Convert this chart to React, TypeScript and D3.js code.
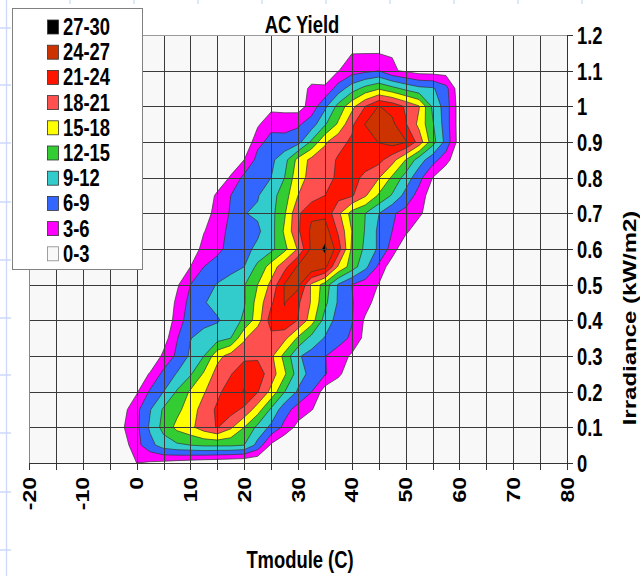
import React, { useEffect, useRef } from "react";
import * as d3 from "d3";

// module temperature (C) of each grid column
const tmodule = [-5, -2.5, 0, 2.5, 5, 7.5, 10, 12.5, 15, 17.5, 20, 22.5, 25, 27.5, 30,
  32.5, 35, 37.5, 40, 42.5, 45, 47.5, 50, 52.5, 55, 57.5, 60, 62.5];

// irradiance (kW/m2) of each grid row
const irradiance = [0, 0.05, 0.1, 0.15, 0.2, 0.25, 0.3, 0.35, 0.4, 0.45, 0.5, 0.55, 0.6,
  0.65, 0.7, 0.75, 0.8, 0.85, 0.9, 0.95, 1, 1.05, 1.1, 1.15, 1.2];

// AC yield, one row per irradiance value
const acYield = [
  [0, 0, 3, 2.6, 2.2, 1.7, 1.3, 0.9, 0.6, 0.3, 0, 0, 0, 0, 0, 0, 0, 0, 0, 0, 0, 0, 0, 0, 0, 0, 0, 0],
  [0, 1.5, 5, 8, 10.5, 11.5, 12, 12.5, 12.5, 12.5, 12, 8, 2.5, 0, 0, 0, 0, 0, 0, 0, 0, 0, 0, 0, 0, 0, 0, 0],
  [0, 2.8, 5.2, 9.5, 13, 15.8, 17.3, 19.5, 21.2, 18.5, 15, 11.2, 8.3, 5.2, 2, 0, 0, 0, 0, 0, 0, 0, 0, 0, 0, 0, 0, 0],
  [0, 2, 5.2, 8.8, 12.4, 14.2, 16.5, 19.3, 21.5, 22.3, 20.3, 16.5, 11.5, 7.2, 4.8, 3.2, 1, 0, 0, 0, 0, 0, 0, 0, 0, 0, 0, 0],
  [0, 0, 2.6, 6.4, 9, 12.3, 15.4, 17.7, 20.3, 22.5, 24.2, 21.2, 17.2, 12.1, 8.6, 6.1, 1.5, 0, 0, 0, 0, 0, 0, 0, 0, 0, 0, 0],
  [0, 0, 0.5, 3.3, 6.8, 9.2, 11.6, 15.4, 19.2, 20.8, 23, 22.5, 19.5, 15.5, 10.5, 8, 6.3, 3.8, 0.5, 0, 0, 0, 0, 0, 0, 0, 0, 0],
  [0, 0, 0, 0, 3.7, 6.6, 9.5, 12, 17, 19.2, 20.2, 20.5, 18.7, 14, 9.4, 7.8, 6.1, 4.6, 2.5, 0, 0, 0, 0, 0, 0, 0, 0, 0],
  [0, 0, 0, 0, 1.5, 5.8, 8.9, 10, 10.8, 12, 17.5, 20.8, 20, 18.8, 14.5, 11, 8.8, 7.2, 5.5, 2, 0, 0, 0, 0, 0, 0, 0, 0],
  [0, 0, 0, 0, 0, 4.5, 7.5, 8.2, 8.7, 10.2, 12.6, 16.5, 22.5, 23.5, 20.9, 16.5, 10.8, 7.8, 6.2, 2.5, 0, 0, 0, 0, 0, 0, 0, 0],
  [0, 0, 0, 0, 0, 3.7, 7, 8.8, 9.9, 10.6, 11.7, 16.2, 20.5, 24.1, 21.5, 17.7, 12.8, 8.6, 6.2, 4.3, 1.5, 0, 0, 0, 0, 0, 0, 0],
  [0, 0, 0, 0, 0, 2.5, 6, 7.6, 9.2, 10.5, 11.8, 15, 18.7, 24.2, 25, 17.5, 13.7, 8.7, 6, 4.4, 2.9, 0, 0, 0, 0, 0, 0, 0],
  [0, 0, 0, 0, 0, 0, 3, 6, 7, 7.9, 9, 12.8, 16.3, 20, 24.5, 26.4, 25, 17.5, 13.6, 9.8, 5.4, 1, 0, 0, 0, 0, 0, 0],
  [0, 0, 0, 0, 0, 0, 0, 4.5, 5.4, 6.8, 8.2, 9.6, 11.2, 14.2, 18.3, 24.6, 27.6, 22.5, 14.5, 11.4, 8.5, 4.8, 0, 0, 0, 0, 0, 0],
  [0, 0, 0, 0, 0, 0, 0, 2.8, 5.2, 6.5, 7.5, 8.5, 10.8, 15.5, 20.5, 24.6, 25.5, 20.5, 15, 11.8, 8.4, 6, 3.8, 0.5, 0, 0, 0, 0],
  [0, 0, 0, 0, 0, 0, 0, 1.5, 4.2, 6.3, 8.9, 9.4, 11, 14.6, 20.5, 23.5, 23.3, 18.7, 13.8, 12, 9.1, 6.4, 5, 3.8, 0.5, 0, 0, 0],
  [0, 0, 0, 0, 0, 0, 0, 0, 3.8, 6, 7.4, 8.8, 10.8, 13.6, 18, 19.5, 21, 22, 21.4, 18.4, 14.6, 11.7, 8, 4.8, 1.2, 0, 0, 0],
  [0, 0, 0, 0, 0, 0, 0, 0, 0, 3.5, 6.8, 7.5, 9, 12, 17, 18.8, 20, 21.5, 22.5, 20, 18.2, 14.5, 10.8, 7, 3, 0, 0, 0],
  [0, 0, 0, 0, 0, 0, 0, 0, 0, 0, 3, 7, 8.3, 10.9, 16, 18.8, 19.8, 21.3, 22.3, 23, 22, 19.2, 15, 10.5, 7.2, 4.3, 0, 0],
  [0, 0, 0, 0, 0, 0, 0, 0, 0, 0, 0, 5.2, 6.9, 6.9, 7.9, 12.5, 17.5, 20.2, 21.4, 22.6, 24.1, 25.3, 24.3, 19.8, 13.3, 8, 1.5, 0],
  [0, 0, 0, 0, 0, 0, 0, 0, 0, 0, 0, 2.5, 5.2, 5.1, 5.5, 7.5, 11.6, 15.5, 20.4, 24.1, 25.8, 24.7, 21.3, 17.2, 12.4, 7.5, 1.5, 0],
  [0, 0, 0, 0, 0, 0, 0, 0, 0, 0, 0, 0, 2, 1.8, 1.6, 4.2, 8.3, 13, 17, 21, 24.1, 23, 20.6, 18.2, 11.5, 7.5, 1.5, 0],
  [0, 0, 0, 0, 0, 0, 0, 0, 0, 0, 0, 0, 0, 0, 1, 3.8, 3.6, 7.4, 10.6, 13, 14.6, 13, 11.2, 9.8, 9.4, 7, 1, 0],
  [0, 0, 0, 0, 0, 0, 0, 0, 0, 0, 0, 0, 0, 0, 0, 0.5, 0.6, 2.9, 4.6, 5.2, 5.9, 3.4, 2.5, 1.6, 1.5, 1.5, 0.3, 0],
  [0, 0, 0, 0, 0, 0, 0, 0, 0, 0, 0, 0, 0, 0, 0, 0, 0, 1, 2.9, 2.9, 2.9, 2.85, 1, 0.5, 0.5, 0.5, 0, 0],
  [0, 0, 0, 0, 0, 0, 0, 0, 0, 0, 0, 0, 0, 0, 0, 0, 0, 0, 0, 0, 0, 0, 0, 0, 0, 0, 0, 0],
];

const levels = [3, 6, 9, 12, 15, 18, 21, 24, 27];
const levelColors = ["#ff00ff", "#3366ff", "#33cccc", "#33cc33", "#ffff00", "#ff5050", "#ff1400", "#cc3300", "#000000"];
const baseColor = "#f8f8f8";
const legendLabels = ["27-30", "24-27", "21-24", "18-21", "15-18", "12-15", "9-12", "6-9", "3-6", "0-3"];

const xTicks = [-20, -10, 0, 10, 20, 30, 40, 50, 60, 70, 80];
const yTicks = [0, 0.1, 0.2, 0.3, 0.4, 0.5, 0.6, 0.7, 0.8, 0.9, 1, 1.1, 1.2];

const FONT = "'Liberation Sans', Arial, sans-serif";

function drawChart(node) {
  const width = 640, height = 576;
  const svg = d3.select(node);
  svg.selectAll("*").remove();

  const x = d3.scaleLinear().domain([-20, 80]).range([29, 567]);
  const y = d3.scaleLinear().domain([0, 1.2]).range([463, 35]);
  const [x0, x1] = x.range();
  const [y0, y1] = y.range();

  // worksheet cell lines peeking out round the chart
  const sheet = svg.append("g").attr("stroke", "#cdd8fb").attr("stroke-width", 1.3);
  sheet.append("line").attr("x1", 6.5).attr("x2", 6.5).attr("y1", 0).attr("y2", height);
  [28, 85, 143, 202, 260, 318, 375, 433, 492, 550].forEach(v =>
    sheet.append("line").attr("x1", 0).attr("x2", 40).attr("y1", v).attr("y2", v));
  [70, 134, 198, 262, 326, 390, 454, 518, 582].forEach(v =>
    sheet.append("line").attr("x1", v).attr("x2", v).attr("y1", 0).attr("y2", 30));
  svg.append("rect").attr("x", 11).attr("y", 4).attr("width", width - 11).attr("height", height - 4).attr("fill", "#fff");

  // plot area
  svg.append("clipPath").attr("id", "plot-clip")
    .append("rect").attr("x", x0).attr("y", y1).attr("width", x1 - x0).attr("height", y0 - y1);
  svg.append("rect").attr("x", x0).attr("y", y1).attr("width", x1 - x0).attr("height", y0 - y1).attr("fill", baseColor);

  const dt = tmodule[1] - tmodule[0];
  const dg = irradiance[1] - irradiance[0];
  const bands = d3.contours()
    .size([tmodule.length, irradiance.length])
    .thresholds(levels)(acYield.flat());

  const toScreen = d3.geoTransform({
    point: function (px, py) {
      this.stream.point(x(tmodule[0] + (px - 0.5) * dt), y(irradiance[0] + (py - 0.5) * dg));
    }
  });
  const path = d3.geoPath(toScreen);

  svg.append("g").attr("clip-path", "url(#plot-clip)")
    .selectAll("path")
    .data(bands)
    .join("path")
    .attr("d", d => path(d))
    .attr("fill", (d, i) => levelColors[i])
    .attr("stroke", "#333")
    .attr("stroke-width", 0.7)
    .attr("stroke-linejoin", "round");

  // grid
  const grid = svg.append("g").attr("stroke", "#3a3a3a").attr("stroke-width", 1).attr("shape-rendering", "crispEdges");
  d3.range(-15, 80, 5).forEach(t =>
    grid.append("line").attr("x1", Math.round(x(t)) + 0.5).attr("x2", Math.round(x(t)) + 0.5).attr("y1", y1).attr("y2", y0));
  d3.range(1, 12).forEach(k =>
    grid.append("line").attr("x1", x0).attr("x2", x1).attr("y1", Math.round(y(k / 10)) + 0.5).attr("y2", Math.round(y(k / 10)) + 0.5));

  // frame and axes
  const frame = svg.append("g").attr("shape-rendering", "crispEdges");
  frame.append("line").attr("x1", x0).attr("x2", x1).attr("y1", y1 + 0.5).attr("y2", y1 + 0.5).attr("stroke", "#999");
  frame.append("line").attr("x1", x0 + 0.5).attr("x2", x0 + 0.5).attr("y1", y1).attr("y2", y0).attr("stroke", "#888");
  frame.append("line").attr("x1", x0).attr("x2", x1 + 6).attr("y1", y0 + 0.5).attr("y2", y0 + 0.5).attr("stroke", "#333");
  frame.append("line").attr("x1", x1 + 0.5).attr("x2", x1 + 0.5).attr("y1", y1).attr("y2", y0 + 7).attr("stroke", "#333");
  d3.range(-20, 85, 5).forEach(t =>
    frame.append("line").attr("x1", Math.round(x(t)) + 0.5).attr("x2", Math.round(x(t)) + 0.5)
      .attr("y1", y0).attr("y2", y0 + 7).attr("stroke", "#333"));
  d3.range(0, 13).forEach(k =>
    frame.append("line").attr("x1", x1).attr("x2", x1 + 6)
      .attr("y1", Math.round(y(k / 10)) + 0.5).attr("y2", Math.round(y(k / 10)) + 0.5).attr("stroke", "#333"));

  // tick labels
  svg.append("g").selectAll("text").data(xTicks).join("text")
    .attr("transform", d => `translate(${x(d) + 6.6},477) scale(0.8,1) rotate(-90)`)
    .attr("text-anchor", "end")
    .style("font-family", FONT).style("font-weight", "bold").style("font-size", "23px")
    .text(d => String(d));

  svg.append("g").selectAll("text").data(yTicks).join("text")
    .attr("transform", d => `translate(577,${y(d) + 9}) scale(0.8,1)`)
    .style("font-family", FONT).style("font-weight", "bold").style("font-size", "23px")
    .text(d => String(+d.toFixed(1)));

  // titles
  svg.append("text")
    .attr("transform", "translate(302,33) scale(0.8,1)")
    .attr("text-anchor", "middle")
    .style("font-family", FONT).style("font-weight", "bold").style("font-size", "23px")
    .text("AC Yield");

  svg.append("text")
    .attr("transform", "translate(300,568) scale(0.8,1)")
    .attr("text-anchor", "middle")
    .style("font-family", FONT).style("font-weight", "bold").style("font-size", "23px")
    .text("Tmodule (C)");

  svg.append("text")
    .attr("transform", "translate(636,318) scale(0.8,1) rotate(-90)")
    .attr("text-anchor", "middle")
    .style("font-family", FONT).style("font-weight", "bold").style("font-size", "24px")
    .text("Irradiance (kW/m2)");

  // legend
  const legendColors = [...levelColors].reverse().concat([baseColor]);
  const legend = svg.append("g");
  legend.append("rect").attr("x", 12.5).attr("y", 8.5).attr("width", 130).attr("height", 261)
    .attr("fill", "#fff").attr("stroke", "#808080");
  const rowY = i => 27 + i * 25.2;
  legend.selectAll(".swatch").data(legendLabels).join("rect")
    .attr("class", "swatch")
    .attr("x", 47.5).attr("y", (d, i) => rowY(i) - 7)
    .attr("width", 11).attr("height", 14)
    .attr("fill", (d, i) => legendColors[i])
    .attr("stroke", (d, i) => (i === legendLabels.length - 1 ? "#888" : "#333"))
    .attr("stroke-width", 0.8);
  legend.selectAll(".label").data(legendLabels).join("text")
    .attr("class", "label")
    .attr("transform", (d, i) => `translate(63,${rowY(i) + 8}) scale(0.8,1)`)
    .style("font-family", FONT).style("font-weight", "bold").style("font-size", "23px")
    .text(d => d);
}

const App = () => {
  const ref = useRef(null);

  useEffect(() => {
    if (ref.current) drawChart(ref.current);
  }, []);

  return (
    <svg ref={ref} width={640} height={576}
      style={{ position: "absolute", left: 0, top: 0, background: "#fff" }} />
  );
};

export default App;
